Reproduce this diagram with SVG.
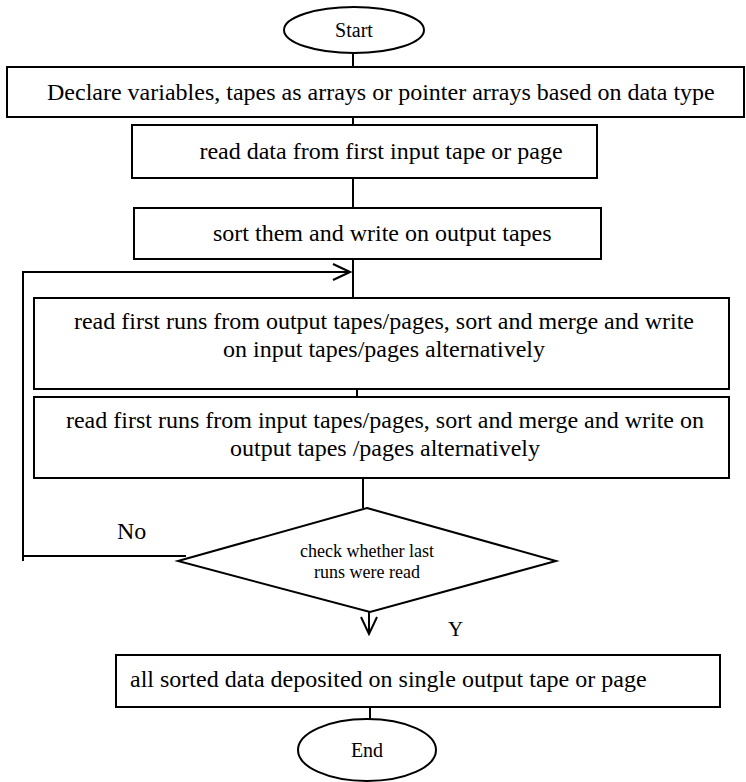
<svg xmlns="http://www.w3.org/2000/svg" width="746" height="782" viewBox="0 0 746 782">
  <style>
    .shape { fill: #ffffff; stroke: #000000; stroke-width: 2; }
    .line { fill: none; stroke: #000000; stroke-width: 2; }
    .t { font-family: "Liberation Serif", "Times New Roman", serif; fill: #000000; }
    .big { font-size: 24px; }
    .mid { font-size: 20px; }
    .small { font-size: 18px; }
    .c { text-anchor: middle; }
  </style>
  <defs>
    <marker id="open-arrow" markerWidth="20" markerHeight="20" refX="18" refY="9" orient="auto" markerUnits="userSpaceOnUse">
      <path d="M1,1 L18,9 L1,17" fill="none" stroke="#000000" stroke-width="2"/>
    </marker>
  </defs>

  <rect width="746" height="782" fill="#ffffff"/>

  <!-- connectors -->
  <g id="connectors">
    <line class="line" x1="353" y1="53" x2="353" y2="67"/>
    <line class="line" x1="353" y1="106" x2="353" y2="125"/>
    <line class="line" x1="353" y1="178" x2="353" y2="208"/>
    <line class="line" x1="353" y1="253" x2="353" y2="303"/>
    <line class="line" x1="357" y1="383" x2="357" y2="400"/>
    <line class="line" x1="363" y1="472" x2="363" y2="508"/>
    <!-- loop back when the last runs are not yet read -->
    <polyline class="line" points="186,556 23,556 23,272 350,272" marker-end="url(#open-arrow)"/>
    <line class="line" x1="23" y1="556" x2="23" y2="561"/>
    <!-- exit when the last runs were read -->
    <line class="line" x1="369" y1="605" x2="369" y2="634" marker-end="url(#open-arrow)"/>
    <line class="line" x1="370" y1="707" x2="370" y2="721"/>
  </g>

  <g id="start">
    <ellipse class="shape" cx="354" cy="30" rx="70" ry="23"/>
    <text class="t mid c" x="354" y="37">Start</text>
  </g>

  <g id="declare">
    <rect class="shape" x="7" y="67" width="737" height="50"/>
    <text class="t big" x="47" y="100">Declare variables, tapes as arrays or pointer arrays based on data type</text>
  </g>

  <g id="read-data">
    <rect class="shape" x="132" y="125" width="465" height="53"/>
    <text class="t big c" x="381" y="159">read data from first input tape or page</text>
  </g>

  <g id="sort-write">
    <rect class="shape" x="134" y="208" width="467" height="51"/>
    <text class="t big" x="213" y="241">sort them and write on output tapes</text>
  </g>

  <g id="merge-to-input">
    <rect class="shape" x="34" y="298" width="695" height="91"/>
    <text class="t big c" x="384" y="329">read first runs from output tapes/pages, sort and merge and write</text>
    <text class="t big c" x="384" y="357">on input tapes/pages alternatively</text>
  </g>

  <g id="merge-to-output">
    <rect class="shape" x="34" y="397" width="695" height="81"/>
    <text class="t big c" x="385" y="428">read first runs from input tapes/pages, sort and merge and write on</text>
    <text class="t big c" x="385" y="456">output tapes /pages alternatively</text>
  </g>

  <g id="check-last">
    <polygon class="shape" points="367,508 556,561 370,612 178,561"/>
    <text class="t small c" x="367" y="557">check whether last</text>
    <text class="t small c" x="367" y="578">runs were read</text>
  </g>

  <g id="labels">
    <text class="t big" x="117" y="539">No</text>
    <text class="t" x="448" y="636" font-size="21">Y</text>
  </g>

  <g id="deposit">
    <rect class="shape" x="116" y="655" width="604" height="52"/>
    <text class="t big" x="130" y="687">all sorted data deposited on single output tape or page</text>
  </g>

  <g id="end">
    <ellipse class="shape" cx="367" cy="750" rx="69" ry="31"/>
    <text class="t mid c" x="367" y="757">End</text>
  </g>
</svg>
